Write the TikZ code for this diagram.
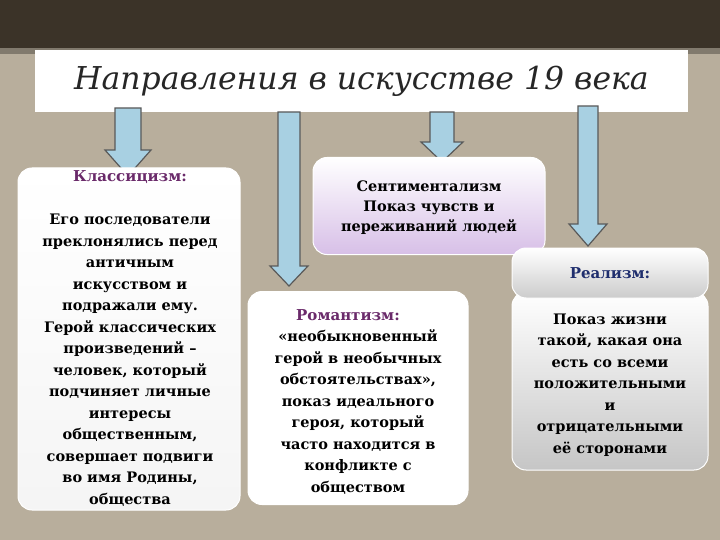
\documentclass[tikz,border=0pt]{standalone}
\usepackage{fontspec}
\setmainfont{DejaVu Serif}
\definecolor{bg}{HTML}{B8AE9C}
\definecolor{band}{HTML}{3B3328}
\definecolor{arr}{HTML}{A8D0E2}
\definecolor{head}{HTML}{6A2A6A}
\definecolor{navy}{HTML}{1F2E6E}
\tikzset{
  barr/.style={draw=gray!70!black, fill=arr, line width=1.2pt, line join=miter},
  card/.style={rounded corners=14pt, draw=white, line width=1pt},
  body/.style={align=center, font=\bfseries\fontsize{14.5}{21.5}\selectfont, text=black},
  hd/.style={font=\bfseries\fontsize{15}{18}\selectfont, text=head}
}
% #1 x, #2 top y, #3 tip y, #4 shaft half, #5 head half, #6 head length
\newcommand{\blockarrow}[6]{%
  \draw[barr] (#1-#4,#2) -- (#1+#4,#2) -- (#1+#4,#3-#6) -- (#1+#5,#3-#6) -- (#1,#3) -- (#1-#5,#3-#6) -- (#1-#4,#3-#6) -- cycle;}
\begin{document}
\begin{tikzpicture}[x=1pt,y=-1pt]
\useasboundingbox (0,0) rectangle (720,540);
\fill[bg] (0,0) rectangle (720,540);
\fill[band] (0,0) rectangle (720,48);
\fill[bg!70!black] (0,48) rectangle (720,54);
\node[fill=white, minimum width=653pt, minimum height=62pt, inner sep=0pt, font=\itshape\fontsize{31.5}{36}\selectfont, text=black!85] (title) at (361.5,81) {Направления в искусстве 19 века};
% arrows
\blockarrow{128}{108}{176}{13}{23}{26}
\blockarrow{289}{112}{286}{11}{19}{20}
\blockarrow{442}{112}{162}{12}{21}{20}
\blockarrow{588}{106}{246}{10}{19}{22}
% cards
\node[card, top color=white, bottom color=white!92!gray, minimum width=222pt, minimum height=342pt] (c1) at (129,339) {};
\node[hd] (h1) at (130,177) {Классицизм:};
\node[body] (t1) at (130,360) {Его последователи\\преклонялись перед\\античным\\искусством и\\подражали ему.\\Герой классических\\произведений –\\человек, который\\подчиняет личные\\интересы\\общественным,\\совершает подвиги\\во имя Родины,\\общества};
\node[card, top color=white, bottom color=blue!25!violet!25, draw=white, minimum width=232pt, minimum height=97pt] (c2) at (429,206) {};
\node[body, font=\bfseries\fontsize{14.5}{20}\selectfont] (t2) at (429,208) {Сентиментализм\\Показ чувств и\\переживаний людей};
\node[card, fill=white, minimum width=220pt, minimum height=213pt] (c3) at (358,398) {};
\node[hd] (h3) at (348,315) {Романтизм:};
\node[body] (t3) at (358,412) {«необыкновенный\\герой в необычных\\обстоятельствах»,\\показ идеального\\героя, который\\часто находится в\\конфликте с\\обществом};
\node[card, top color=white, bottom color=gray!45, minimum width=196pt, minimum height=178pt] (c5) at (610,381) {};
\node[card, top color=white, bottom color=gray!40, minimum width=196pt, minimum height=50pt] (c4) at (610,273) {};
\node[hd, text=navy] (h4) at (610,273) {Реализм:};
\node[body] (t5) at (610,385) {Показ жизни\\такой, какая она\\есть со всеми\\положительными\\и\\отрицательными\\её сторонами};
\end{tikzpicture}
\end{document}
